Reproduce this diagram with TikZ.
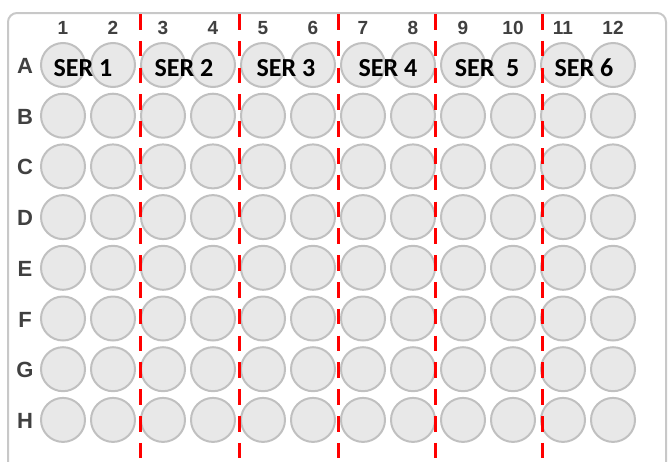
\documentclass[tikz,border=0pt]{standalone}
\usepackage{fontspec}
\setmainfont{Liberation Sans}
\newfontfamily\calfont{Carlito}
\definecolor{wellfill}{HTML}{E8E8E8}
\definecolor{wellline}{HTML}{C0C0C0}
\definecolor{frameline}{HTML}{C8C8C8}
\definecolor{labelgray}{HTML}{404040}
\definecolor{sepred}{HTML}{FF0000}
\begin{document}
\begin{tikzpicture}[x=1pt,y=-1pt,
  well/.style={circle,draw=wellline,fill=wellfill,line width=2pt,minimum size=44pt,inner sep=0pt},
  collabel/.style={font=\fontsize{19}{21}\selectfont\bfseries,text=labelgray,inner sep=0pt},
  rowlabel/.style={font=\fontsize{22}{25}\selectfont\bfseries,text=labelgray,inner sep=0pt},
  serlabel/.style={font=\calfont\fontsize{26}{30}\selectfont\bfseries,text=black,inner sep=0pt},
  sepline/.style={draw=sepred,line width=3pt,dash pattern=on 15.5pt off 11.3pt},
  plateframe/.style={draw=frameline,line width=2pt,rounded corners=9pt}]
\useasboundingbox (0,0) rectangle (668,461);
\begin{scope}
  \clip (0,0) rectangle (668,461);
  \draw[plateframe] (8,13) rectangle (666,490);
\end{scope}
% wells
\foreach \r [count=\i from 0] in {A,B,C,D,E,F,G,H}{
  \foreach \c in {1,...,12}{
    \node[well] (w-\r-\c) at ({63+50*(\c-1)},{65+50.7*\i}) {};
  }
  \node[rowlabel] (row-\r) at (25,{66+50.7*\i}) {\r};
}
% column numbers
\foreach \c in {1,...,12}{
  \node[collabel] (col-\c) at ({63+50*(\c-1)},28) {\c};
}
% separators
\foreach \x in {140,239,338,435,542}{
  \draw[sepline] (\x,14) -- (\x,461);
}
% series labels
\node[serlabel] (ser1) at (83,68) {SER 1};
\node[serlabel] (ser2) at (184,68) {SER 2};
\node[serlabel] (ser3) at (286,68) {SER 3};
\node[serlabel] (ser4) at (388,68) {SER 4};
\node[serlabel] (ser5) at (487,68) {SER\hspace{0.45em}5};
\node[serlabel] (ser6) at (584,68) {SER 6};
\end{tikzpicture}
\end{document}
